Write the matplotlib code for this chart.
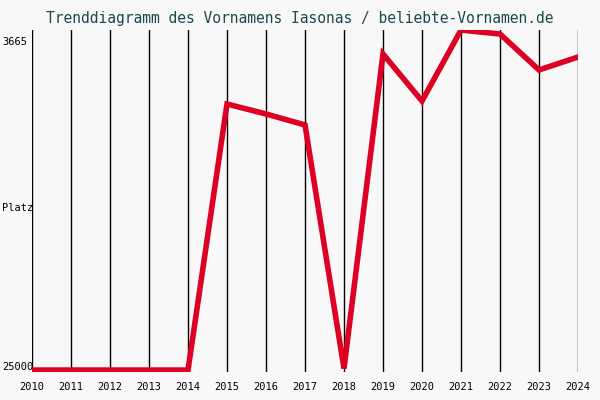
import matplotlib
matplotlib.use("Agg")
import matplotlib.pyplot as plt

years = list(range(2010, 2025))
ranks = [25200, 25200, 25200, 25200, 25200, 7735, 8390, 9110, 25100, 4450, 7540, 2880, 3140, 5500, 4650]
ytick_vals = [3665, 25000]

fig = plt.figure(figsize=(6, 4), dpi=100, facecolor="#f8f8f8")
ax = fig.add_axes([32/600, 28/400, 546/600, 342/400], facecolor="#f8f8f8")
for y in years:
    ax.axvline(y, color="black", lw=1, zorder=1)
ax.plot(years, ranks, color="#dd0022", lw=4, zorder=3, solid_joinstyle="miter")
ax.set_xlim(2010, 2024)
ax.set_ylim(25328, 2877)
for s in ax.spines.values():
    s.set_visible(False)
ax.set_xticks([])
ax.set_yticks([])
font = dict(family="DejaVu Sans Mono", fontsize=7.5, color="black")
for y in years:
    ax.text(y, -0.045, str(y), transform=ax.get_xaxis_transform(), ha="center", va="center", **font)
for v in ytick_vals:
    ax.text(2/600, v, str(v), transform=matplotlib.transforms.blended_transform_factory(fig.transFigure, ax.transData),
            ha="left", va="center", **font)
fig.text(2/600, 1 - 208/400, "Platz", ha="left", va="center", **font)
fig.text(0.5, 1 - 18/400, "Trenddiagramm des Vornamens Iasonas / beliebte-Vornamen.de",
         ha="center", va="center", family="DejaVu Sans Mono", fontsize=10.5, color="#1a4a4a")
fig.savefig("out.png", dpi=100, facecolor=fig.get_facecolor())
